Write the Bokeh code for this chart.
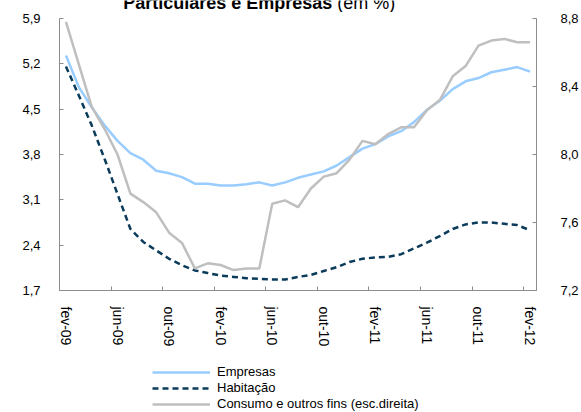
from bokeh.plotting import figure
from bokeh.layouts import column
from bokeh.models import (Range1d, LinearAxis, FixedTicker, Legend, LegendItem,
                          Label, ColumnDataSource, CustomJSTickFormatter)
from bokeh.embed import file_html
from bokeh.resources import INLINE

# ---------------- data ----------------
months = list(range(37))  # fev-09 ... fev-12, monthly
tick_idx = [0, 4, 8, 12, 16, 20, 24, 28, 32, 36]
tick_labels = ["fev-09", "jun-09", "out-09", "fev-10", "jun-10",
               "out-10", "fev-11", "jun-11", "out-11", "fev-12"]

empresas = [5.33, 4.84, 4.53, 4.25, 4.01, 3.82, 3.72, 3.55, 3.51, 3.45,
            3.35, 3.35, 3.32, 3.32, 3.34, 3.37, 3.32, 3.37, 3.44, 3.49,
            3.54, 3.63, 3.76, 3.89, 3.96, 4.08, 4.16, 4.30, 4.49, 4.63,
            4.81, 4.93, 4.98, 5.07, 5.11, 5.15, 5.08]
habitacao = [5.16, 4.71, 4.25, 3.73, 3.19, 2.65, 2.45, 2.32, 2.19, 2.09,
             2.01, 1.97, 1.93, 1.91, 1.89, 1.88, 1.87, 1.87, 1.91, 1.94,
             2.00, 2.06, 2.14, 2.19, 2.21, 2.22, 2.26, 2.35, 2.44, 2.54,
             2.65, 2.72, 2.75, 2.75, 2.73, 2.71, 2.63]
consumo = [8.78, 8.53, 8.28, 8.15, 8.00, 7.77, 7.72, 7.66, 7.54, 7.48,
           7.33, 7.36, 7.35, 7.32, 7.33, 7.33, 7.71, 7.73, 7.69, 7.80,
           7.87, 7.89, 7.97, 8.08, 8.06, 8.12, 8.16, 8.16, 8.26, 8.32,
           8.46, 8.52, 8.64, 8.67, 8.68, 8.66, 8.66]

left_ticks = [1.7, 2.4, 3.1, 3.8, 4.5, 5.2, 5.9]
right_ticks = [7.2, 7.6, 8.0, 8.4, 8.8]

series_names = ["Empresas", "Habitação", "Consumo e outros fins (esc.direita)"]
title_bold = "Particulares e Empresas"
title_normal = "(em %)"

# ---------------- styling ----------------
FONT = "Liberation Sans"
AXIS_COLOR = "#8C8C8C"
C_EMP = "#99CCFF"
C_HAB = "#0B3B5B"
C_CON = "#BFBFBF"
LW = 2.5
DASH = "6 4"
W = 581
BL, BR = 59, 45

src = ColumnDataSource(dict(x=months, emp=empresas, hab=habitacao, con=consumo))
xr = Range1d(-0.5, 36.5)

# ---------------- title strip (cut off at the top, as in the reference) ----
ts = figure(width=W, height=12, output_backend="svg", toolbar_location=None,
            x_range=xr, y_range=Range1d(0, 12),
            x_axis_location=None, y_axis_location=None,
            min_border_left=BL, min_border_right=BR, min_border_top=0,
            min_border_bottom=0)
ts.outline_line_color = None
ts.xgrid.visible = False
ts.ygrid.visible = False
ts.add_layout(Label(x=20.66, y=9.5, text=title_bold, text_align="right",
                    text_baseline="alphabetic", text_font=FONT,
                    text_font_size="18px", text_font_style="bold",
                    text_color="black"))
ts.add_layout(Label(x=21.05, y=9.5, text=title_normal, text_align="left",
                    text_baseline="alphabetic", text_font=FONT,
                    text_font_size="18px", text_color="black"))

# ---------------- main chart ----------------
p = figure(width=W, height=346, output_backend="svg", toolbar_location=None,
           x_range=xr, y_range=Range1d(1.7, 5.9),
           min_border_left=BL, min_border_right=BR, min_border_top=6,
           min_border_bottom=68)
p.outline_line_color = None
p.xgrid.visible = False
p.ygrid.visible = False

p.extra_y_ranges = {"r": Range1d(7.2, 8.8)}

fmt = CustomJSTickFormatter(code="return tick.toFixed(1).replace('.', ',')")


def style_axis(ax, standoff):
    ax.major_tick_in = 4
    ax.major_tick_out = 0
    ax.minor_tick_in = 0
    ax.minor_tick_out = 0
    ax.axis_line_color = AXIS_COLOR
    ax.major_tick_line_color = AXIS_COLOR
    ax.major_label_text_font = FONT
    ax.major_label_text_font_size = "13px"
    ax.major_label_text_color = "black"
    ax.major_label_standoff = standoff


ya = p.yaxis[0]
ya.ticker = FixedTicker(ticks=left_ticks, minor_ticks=[])
ya.formatter = fmt
style_axis(ya, 19)

ra = LinearAxis(y_range_name="r")
ra.ticker = FixedTicker(ticks=right_ticks, minor_ticks=[])
ra.formatter = fmt
style_axis(ra, 24)
p.add_layout(ra, "right")

xa = p.xaxis[0]
xa.ticker = FixedTicker(ticks=tick_idx, minor_ticks=[t - 0.5 for t in tick_idx])
xa.major_label_overrides = {t: lab for t, lab in zip(tick_idx, tick_labels)}
xa.major_tick_in = 0
xa.major_tick_out = 0
xa.minor_tick_in = 4
xa.minor_tick_out = 0
xa.minor_tick_line_color = AXIS_COLOR
xa.axis_line_color = AXIS_COLOR
xa.major_label_orientation = "vertical"
xa.major_label_text_font = FONT
xa.major_label_text_font_size = "14px"
xa.major_label_text_color = "black"
xa.major_label_standoff = 16

p.line("x", "emp", source=src, line_color=C_EMP, line_width=LW)
p.line("x", "hab", source=src, line_color=C_HAB, line_width=LW, line_dash=DASH)
p.line("x", "con", source=src, line_color=C_CON, line_width=LW, y_range_name="r")

# ---------------- legend strip ----------------
lg = figure(width=W, height=54, output_backend="svg", toolbar_location=None,
            x_range=xr, y_range=Range1d(1000, 1001),
            x_axis_location=None, y_axis_location=None,
            min_border_left=BL, min_border_right=BR, min_border_top=0,
            min_border_bottom=0)
lg.outline_line_color = None
lg.xgrid.visible = False
lg.ygrid.visible = False
# same series, outside this strip's visible range: only their legend samples show
l1 = lg.line("x", "emp", source=src, line_color=C_EMP, line_width=LW)
l2 = lg.line("x", "hab", source=src, line_color=C_HAB, line_width=LW, line_dash=DASH)
l3 = lg.line("x", "con", source=src, line_color=C_CON, line_width=LW)

legend = Legend(items=[LegendItem(label=series_names[0], renderers=[l1]),
                       LegendItem(label=series_names[1], renderers=[l2]),
                       LegendItem(label=series_names[2], renderers=[l3])],
                location=(93, 1), orientation="vertical",
                glyph_width=58, glyph_height=14, label_height=14,
                label_standoff=7, spacing=1, padding=0, margin=0,
                label_text_font=FONT, label_text_font_size="13px",
                label_text_color="black",
                border_line_color=None, background_fill_alpha=0)
lg.add_layout(legend, "center")

layout = column(ts, p, lg, spacing=0)
open("out.html", "w").write(file_html(layout, INLINE))
